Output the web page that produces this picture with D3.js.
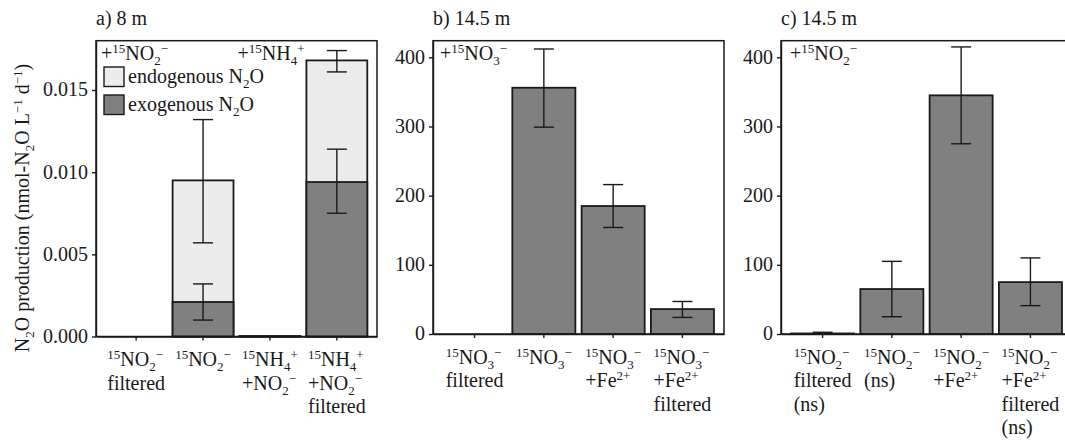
<!DOCTYPE html>
<html>
<head>
<meta charset="utf-8">
<script src="https://cdn.jsdelivr.net/npm/d3@7"></script>
<style>
  body { margin: 0; background: #fff; }
</style>
</head>
<body>
<svg id="chart" width="1065" height="441" font-family="Liberation Serif" font-size="20"></svg>
<script>
// ---- data ----
// markup: ^{..} superscript, _{..} subscript
const aCats = ['NO2f', 'NO2', 'NH4NO2', 'NH4NO2f']
const aLabels = [
  ['^{15}NO_{2}^{−}', 'filtered'],
  ['^{15}NO_{2}^{−}'],
  ['^{15}NH_{4}^{+}', '+NO_{2}^{−}'],
  ['^{15}NH_{4}^{+}', '+NO_{2}^{−}', 'filtered']
]
const aTotal = [0, 0.0095, 0.00002, 0.0168]
const aTotalLow = [null, 0.0057, null, 0.0161]
const aTotalHigh = [null, 0.0132, null, 0.0174]
const aExo = [0, 0.0021, 0.00002, 0.0094]
const aExoLow = [null, 0.0010, null, 0.0075]
const aExoHigh = [null, 0.0032, null, 0.0114]
const aTicks = [0, 0.005, 0.010, 0.015]

const bCats = ['NO3f', 'NO3', 'NO3Fe', 'NO3Fef']
const bLabels = [
  ['^{15}NO_{3}^{−}', 'filtered'],
  ['^{15}NO_{3}^{−}'],
  ['^{15}NO_{3}^{−}', '+Fe^{2+}'],
  ['^{15}NO_{3}^{−}', '+Fe^{2+}', 'filtered']
]
const bValues = [0, 356, 185, 36]
const bLow = [null, 299, 154, 24]
const bHigh = [null, 412, 216, 47]

const cCats = ['NO2f', 'NO2', 'NO2Fe', 'NO2Fef']
const cLabels = [
  ['^{15}NO_{2}^{−}', 'filtered', '(ns)'],
  ['^{15}NO_{2}^{−}', '(ns)'],
  ['^{15}NO_{2}^{−}', '+Fe^{2+}'],
  ['^{15}NO_{2}^{−}', '+Fe^{2+}', 'filtered', '(ns)']
]
const cValues = [0.8, 65, 345, 75]
const cLow = [0, 25, 275, 41]
const cHigh = [2.5, 105, 415, 110]
const bcTicks = [0, 100, 200, 300, 400]

const yLabel = 'N_{2}O production (nmol-N_{2}O L^{−1} d^{−1})'

// ---- helpers ----
const svg = d3.select('#chart')
const ink = '#1a1a1a'
const gray = '#808080'
const light = '#ebeceb'

function txt(parent) {
  return parent.append('text').attr('font-family', 'Liberation Serif').attr('font-size', 20).attr('fill', ink)
}

// splits markup into tspans, shifting sub/superscripts with dy
function rich(sel, str) {
  const parts = str.match(/\^\{[^}]*\}|_\{[^}]*\}|[^^_]+/g)
  let shift = 0
  parts.forEach(p => {
    let target = 0, size = null, t = p
    if (p[0] === '^') { target = -7; size = 13; t = p.slice(2, -1) }
    else if (p[0] === '_') { target = 5; size = 13; t = p.slice(2, -1) }
    sel.append('tspan').attr('dy', target - shift).attr('font-size', size).text(t)
    shift = target
  })
  return sel
}

function panel(p) {
  const g = svg.append('g')
  const x = d3.scaleBand().domain(p.cats).range([p.x0, p.x1])
    .paddingInner(0.09).paddingOuter(0.145)
  const y = d3.scaleLinear().domain([0, p.max]).range([p.y1, p.y0])

  // bars
  p.layers.forEach(l => {
    g.append('g').selectAll('rect')
      .data(p.cats.map((c, i) => ({ c, v: l.values[i] })).filter(d => d.v > 0))
      .join('rect')
      .attr('x', d => x(d.c))
      .attr('width', x.bandwidth())
      .attr('y', d => y(d.v))
      .attr('height', d => y(0) - y(d.v))
      .attr('fill', l.fill)
      .attr('stroke', ink)
      .attr('stroke-width', 1.8)
  })
  // error bars
  p.layers.forEach(l => {
    const eg = g.append('g').attr('stroke', ink).attr('stroke-width', 1.4)
    p.cats.forEach((c, i) => {
      if (l.low[i] == null) return
      const cx = x(c) + x.bandwidth() / 2
      eg.append('line').attr('x1', cx).attr('x2', cx).attr('y1', y(l.low[i])).attr('y2', y(l.high[i]))
      eg.append('line').attr('x1', cx - 10).attr('x2', cx + 10).attr('y1', y(l.low[i])).attr('y2', y(l.low[i]))
      eg.append('line').attr('x1', cx - 10).attr('x2', cx + 10).attr('y1', y(l.high[i])).attr('y2', y(l.high[i]))
    })
  })

  // frame
  g.append('rect')
    .attr('x', p.x0).attr('y', p.y0)
    .attr('width', p.x1 - p.x0).attr('height', p.y1 - p.y0)
    .attr('fill', 'none').attr('stroke', ink).attr('stroke-width', 1.5)

  // axes: d3 draws the lines and ticks, tick text is added below
  const ya = g.append('g').attr('transform', `translate(${p.x0},0)`)
    .call(d3.axisLeft(y).tickValues(p.ticks).tickFormat('').tickSize(4).tickSizeOuter(0))
  const xa = g.append('g').attr('transform', `translate(0,${p.y1})`)
    .call(d3.axisBottom(x).tickSize(4).tickSizeOuter(0).tickFormat(''))
  ;[ya, xa].forEach(a => {
    a.attr('font-family', null).attr('font-size', null)
    a.selectAll('text').remove()
    a.selectAll('path,line').attr('stroke', ink).attr('stroke-width', 1.4)
  })
  p.ticks.forEach(v => {
    txt(g).attr('x', p.x0 - 8).attr('y', y(v)).attr('dy', '0.32em')
      .attr('text-anchor', 'end').text(p.fmt(v))
  })

  // category labels: lines left aligned, block centred on tick
  p.cats.forEach((c, i) => {
    const lg = g.append('g')
    p.labels[i].forEach((ln, k) => {
      rich(txt(lg).attr('x', 0).attr('y', p.y1 + 29.5 + k * 23.5), ln)
    })
    const w = lg.node().getBBox().width
    lg.attr('transform', `translate(${x(c) + x.bandwidth() / 2 - w / 2},0)`)
  })

  // title
  txt(g).attr('x', p.x0).attr('y', 25).text(p.title)
  // notes
  p.notes.forEach(n => {
    rich(txt(g).attr('x', n.x).attr('y', 60), n.t)
  })
}

// ---- panels ----
panel({
  x0: 96, x1: 377, y0: 40.7, y1: 336.5, max: 0.018,
  cats: aCats, labels: aLabels, ticks: aTicks, fmt: d3.format('.3f'),
  title: 'a) 8 m',
  layers: [
    { values: aTotal, low: aTotalLow, high: aTotalHigh, fill: light },
    { values: aExo, low: aExoLow, high: aExoHigh, fill: gray }
  ],
  notes: [{ x: 101, t: '+^{15}NO_{2}^{−}' }, { x: 237.5, t: '+^{15}NH_{4}^{+}' }]
})

panel({
  x0: 433, x1: 724, y0: 40.7, y1: 334, max: 424,
  cats: bCats, labels: bLabels, ticks: bcTicks, fmt: d3.format('d'),
  title: 'b) 14.5 m',
  layers: [{ values: bValues, low: bLow, high: bHigh, fill: gray }],
  notes: [{ x: 440, t: '+^{15}NO_{3}^{−}' }]
})

panel({
  x0: 781, x1: 1072, y0: 40.7, y1: 334, max: 424,
  cats: cCats, labels: cLabels, ticks: bcTicks, fmt: d3.format('d'),
  title: 'c) 14.5 m',
  layers: [{ values: cValues, low: cLow, high: cHigh, fill: gray }],
  notes: [{ x: 790, t: '+^{15}NO_{2}^{−}' }]
})

// legend (panel a)
const legend = [
  { label: 'endogenous N_{2}O', fill: light },
  { label: 'exogenous N_{2}O', fill: gray }
]
legend.forEach((d, i) => {
  const ly = 67 + i * 28
  svg.append('rect').attr('x', 104).attr('y', ly).attr('width', 20).attr('height', 19.5)
    .attr('fill', d.fill).attr('stroke', ink).attr('stroke-width', 1.4)
  rich(txt(svg).attr('x', 128).attr('y', ly + 16), d.label)
})

// y axis title
rich(txt(svg)
  .attr('transform', 'translate(29,208) rotate(-90)')
  .attr('text-anchor', 'middle'), yLabel)
</script>
</body>
</html>
